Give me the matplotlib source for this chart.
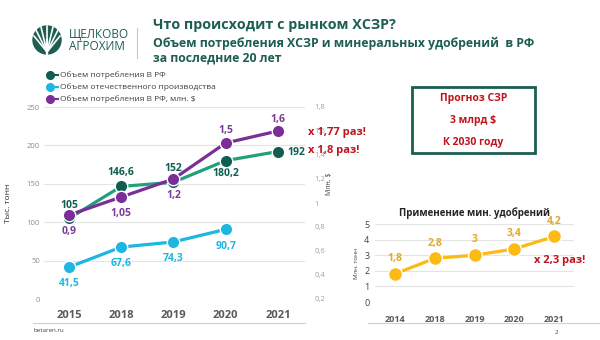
import matplotlib
matplotlib.use("Agg")
import matplotlib.pyplot as plt
from matplotlib.patches import Circle, Rectangle

plt.rcParams["font.family"] = ["Open Sans", "DejaVu Sans"]

# ── Data ──
years = ["2015", "2018", "2019", "2020", "2021"]
consumption = [105, 146.6, 152, 180.2, 192]
consumption_lbl = ["105", "146,6", "152", "180,2", "192"]
production = [41.5, 67.6, 74.3, 90.7]
production_lbl = ["41,5", "67,6", "74,3", "90,7"]
consumption_usd = [0.9, 1.05, 1.2, 1.5, 1.6]
consumption_usd_lbl = ["0,9", "1,05", "1,2", "1,5", "1,6"]
left_ticks = [0, 50, 100, 150, 200, 250]
right_ticks = [0.2, 0.4, 0.6, 0.8, 1.0, 1.2, 1.4, 1.6, 1.8]
right_tick_lbl = ["0,2", "0,4", "0,6", "0,8", "1", "1,2", "1,4", "1,6", "1,8"]

fert_years = ["2014", "2018", "2019", "2020", "2021"]
fert = [1.8, 2.8, 3.0, 3.4, 4.2]
fert_lbl = ["1,8", "2,8", "3", "3,4", "4,2"]

# ── Colours ──
DARK = "#1D5E52"
GREEN_LINE = "#21A07C"
GREEN_MK = "#0F5E50"
CYAN = "#1DB7E2"
PURPLE = "#7A2E97"
PURPLE_TXT = "#7B3C99"
YELLOW = "#FDBA12"
YELLOW_TXT = "#E2A92A"
RED = "#C0141C"
GRID = "#E4E4E4"
TICK = "#8C8C8C"
XTICK = "#595959"

W, H = 600, 340
fig = plt.figure(figsize=(W / 100, H / 100), dpi=100)
fig.patch.set_facecolor("white")


def fx(px):
    return px / W


def fy(py):
    return 1 - py / H


# ── Decorations in pixel coordinates (drawn underneath) ──
deco = fig.add_axes([0, 0, 1, 1], zorder=-1)
deco.set_xlim(0, W)
deco.set_ylim(H, 0)
deco.axis("off")

# ── Main chart ──
ax = fig.add_axes([fx(44), fy(299), fx(261), (299 - 107) / H])
ax.set_facecolor("none")
x = list(range(len(years)))
ax.plot(x, consumption, "-", color=GREEN_LINE, lw=2.3, zorder=3)
ax.plot(x, consumption, "o", color=GREEN_MK, ms=9, mec="white", mew=1, zorder=4)
ax.plot(x[:len(production)], production, "-o", color=CYAN, lw=2.3, ms=9,
        mec="white", mew=1, zorder=3)
ax.set_ylim(0, 250)
ax.set_xlim(-0.48, 4.52)
ax.set_yticks(left_ticks)
ax.set_yticklabels([str(t) for t in left_ticks], fontsize=5.5, color=TICK)
ax.set_xticks(x)
ax.set_xticklabels(years, fontsize=8, fontweight="bold", color=XTICK)
ax.tick_params(axis="both", length=0)
ax.tick_params(axis="x", pad=8)
ax.tick_params(axis="y", pad=3)
ax.grid(axis="y", color=GRID, lw=0.8)
ax.set_axisbelow(True)
for s in ax.spines.values():
    s.set_visible(False)
ax.set_ylabel("Тыс. тонн", fontsize=6, color="#303030")
ax.yaxis.set_label_coords(-(44 - 12) / 261, 0.5)

ax2 = ax.twinx()
ax2.set_facecolor("none")
ax2.plot(x, consumption_usd, "-o", color=PURPLE, lw=2.3, ms=9,
         mec="white", mew=1, zorder=5)
ax2.set_ylim(0.2, 1.8)
ax2.set_yticks(right_ticks)
ax2.set_yticklabels(right_tick_lbl, fontsize=5.5, color="#A0A0A0")
ax2.tick_params(axis="y", length=0, pad=7)
for s in ax2.spines.values():
    s.set_visible(False)
ax2.set_ylabel("Млн. $", fontsize=5, color="#404040", rotation=90)
ax2.yaxis.set_label_coords((326 - 44) / 261, 0.6)

lbl_kw = dict(textcoords="offset points", ha="center", va="center",
              fontsize=7.5, fontweight="bold")
green_off = [(0, 9), (0, 10), (0, 10), (0, -9), (13, -1)]
for i, (v, t) in enumerate(zip(consumption, consumption_lbl)):
    ax.annotate(t, (i, v), xytext=green_off[i], color=GREEN_MK, **lbl_kw)
for i, (v, t) in enumerate(zip(production, production_lbl)):
    ax.annotate(t, (i, v), xytext=(0, -12), color=CYAN, **lbl_kw)
purple_off = [(0, -12), (0, -12), (0, -12), (0, 9), (0, 8)]
for i, (v, t) in enumerate(zip(consumption_usd, consumption_usd_lbl)):
    ax2.annotate(t, (i, v), xytext=purple_off[i], color=PURPLE_TXT, **lbl_kw)

# ── Fertilizer chart ──
axf = fig.add_axes([fx(375), fy(302), fx(199), (302 - 224) / H])
axf.set_facecolor("none")
xf = list(range(len(fert_years)))
axf.plot(xf, fert, "-o", color=YELLOW, lw=2.3, ms=10, mec="white", mew=1, zorder=3)
axf.set_ylim(0, 5)
axf.set_xlim(-0.5, 4.5)
axf.set_yticks(range(6))
axf.set_yticklabels([str(t) for t in range(6)], fontsize=6.5, color="#404040")
axf.set_xticks(xf)
axf.set_xticklabels(fert_years, fontsize=6.5, fontweight="bold", color=XTICK)
axf.tick_params(axis="both", length=0)
axf.tick_params(axis="x", pad=9)
axf.tick_params(axis="y", pad=4)
axf.grid(axis="y", color=GRID, lw=0.8)
axf.set_axisbelow(True)
for s in axf.spines.values():
    s.set_visible(False)
axf.set_ylabel("Млн. тонн", fontsize=4.5, color="#404040", labelpad=4)
for i, (v, t) in enumerate(zip(fert, fert_lbl)):
    axf.annotate(t, (i, v), xytext=(0, 11), textcoords="offset points",
                 ha="center", va="center", fontsize=7.5, fontweight="bold",
                 color=YELLOW_TXT)
axf.set_title("Применение мин. удобрений", fontsize=7, fontweight="bold",
              color="#262626", pad=6)

# logo
deco.add_patch(Circle((47, 40), 14, color=DARK))
for dx, dy in [(-13, -4), (-11, -10), (-6, -13), (0, -14), (6, -13), (11, -10), (13, -4)]:
    deco.plot([47, 47 + dx], [52, 40 + dy], color="white", lw=1.2)
deco.plot([47, 47], [40, 55], color="white", lw=1.6)
deco.text(69, 34, "ЩЕЛКОВО", fontsize=8.5, color=DARK, va="center")
deco.text(69, 47, "АГРОХИМ", fontsize=8.5, color=DARK, va="center")
deco.plot([137, 137], [28, 58], color="#C8C8C8", lw=0.8)

deco.text(153, 25, "Что происходит с рынком ХСЗР?", fontsize=10.3,
          fontweight="bold", color=DARK, va="center")
deco.text(153, 43, "Объем потребления ХСЗР и минеральных удобрений  в РФ",
          fontsize=8.8, fontweight="bold", color=DARK, va="center")
deco.text(153, 58, "за последние 20 лет", fontsize=8.8, fontweight="bold",
          color=DARK, va="center")

# legend
legend_rows = [
    (75, GREEN_MK, "Объем потребления В РФ"),
    (87, CYAN, "Объем отечественного производства"),
    (99, PURPLE, "Объем потребления В РФ, млн. $"),
]
for py, c, t in legend_rows:
    deco.plot([50, 58], [py, py], color=c, lw=1.5)
    deco.plot([50], [py], "o", color=c, ms=5.5)
    deco.text(60, py, t, fontsize=6, color="#404040", va="center")

# growth notes
fig.text(fx(308), fy(133), "x 1,77 раз!", fontsize=8, fontweight="bold",
         color=RED, va="center", zorder=10)
fig.text(fx(308), fy(150), "x 1,8 раз!", fontsize=8, fontweight="bold",
         color=RED, va="center", zorder=10)
fig.text(fx(560), fy(260), "x 2,3 раз!", fontsize=8, fontweight="bold",
         color=RED, va="center", ha="center", zorder=10)

# forecast box
deco.add_patch(Rectangle((412, 87), 123, 66, fill=False, ec=DARK, lw=2))
for py, t in [(98, "Прогноз СЗР"), (120, "3 млрд $"), (142, "К 2030 году")]:
    deco.text(473.5, py, t, fontsize=7.5, fontweight="bold", color=RED,
              ha="center", va="center")

# bottom lines and footer
deco.plot([33, 305], [323, 323], color="#D0D0D0", lw=0.8)
deco.plot([368, 600], [323, 323], color="#D0D0D0", lw=0.8)
deco.text(33, 330, "betaren.ru", fontsize=4.5, color="#404040", va="center")
deco.text(555, 333, "2", fontsize=4.5, color="#404040", va="center")

fig.savefig("out.png", dpi=100, facecolor="white")
